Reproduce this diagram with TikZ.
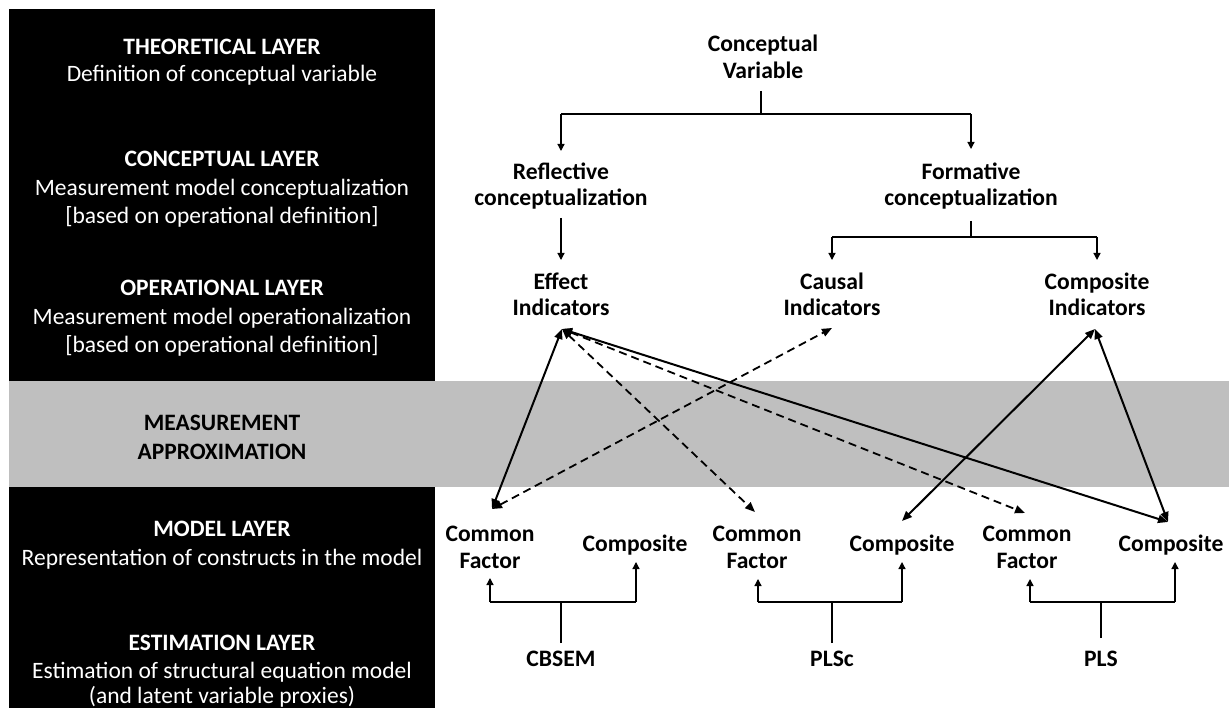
\documentclass[tikz,border=0pt]{standalone}
\usepackage{fontspec}
\setmainfont{Carlito}
\usetikzlibrary{arrows.meta}
\definecolor{bandgray}{RGB}{191,191,191}
\begin{document}
\begin{tikzpicture}[x=1pt,y=-1pt,
  lbl/.style={inner sep=0pt, anchor=base, font=\fontsize{23.6}{27}\selectfont\bfseries},
  ptxt/.style={inner sep=0pt, anchor=base, text=white, font=\fontsize{23.5}{28}\selectfont},
  phead/.style={inner sep=0pt, anchor=base, text=white, font=\fontsize{23.5}{28}\selectfont\bfseries},
  bhead/.style={inner sep=0pt, anchor=base, text=black, font=\fontsize{23.5}{28}\selectfont\bfseries},
  treeline/.style={line width=1.3pt},
  tree/.style={line width=1.3pt, -{Triangle[length=7pt,width=7pt]}},
  link/.style={line width=2pt, {Triangle[length=10pt,width=8pt]}-{Triangle[length=10pt,width=8pt]}},
  dlink/.style={line width=1.8pt, dash pattern=on 8pt off 5pt, {Triangle[length=10pt,width=8pt]}-{Triangle[length=10pt,width=8pt]}}
]
\useasboundingbox (0,0) rectangle (1229,708);
\fill[white] (0,0) rectangle (1229,708);
% measurement band and layer panel
\fill[bandgray] (9,381) rectangle (1229,487);
\fill[black] (9,9) rectangle (435,381);
\fill[black] (9,487) rectangle (435,708);

% panel texts
\node[phead] (th1) at (222,55) {THEORETICAL LAYER};
\node[ptxt]  (th2) at (222,82) {Definition of conceptual variable};
\node[phead] (co1) at (222,167) {CONCEPTUAL LAYER};
\node[ptxt]  (co2) at (222,196) {Measurement model conceptualization};
\node[ptxt]  (co3) at (222,224) {[based on operational definition]};
\node[phead] (op1) at (222,296) {OPERATIONAL LAYER};
\node[ptxt]  (op2) at (222,325) {Measurement model operationalization};
\node[ptxt]  (op3) at (222,353) {[based on operational definition]};
\node[bhead] (ma1) at (222,431) {MEASUREMENT};
\node[bhead] (ma2) at (222,459) {APPROXIMATION};
\node[phead] (mo1) at (222,536) {MODEL LAYER};
\node[ptxt]  (mo2) at (222,565) {Representation of constructs in the model};
\node[phead] (es1) at (222,650) {ESTIMATION LAYER};
\node[ptxt]  (es2) at (222,678) {Estimation of structural equation model};
\node[ptxt]  (es3) at (222,703) {(and latent variable proxies)};

% right side labels
\node[lbl] (cv1) at (763,52) {Conceptual};
\node[lbl] (cv2) at (763,79) {Variable};
\node[lbl] (rc1) at (561,180) {Reflective};
\node[lbl] (rc2) at (561,206) {conceptualization};
\node[lbl] (fc1) at (971,180) {Formative};
\node[lbl] (fc2) at (971,206) {conceptualization};
\node[lbl] (ei1) at (561,290) {Effect};
\node[lbl] (ei2) at (561,316) {Indicators};
\node[lbl] (ci1) at (832,290) {Causal};
\node[lbl] (ci2) at (832,316) {Indicators};
\node[lbl] (mi1) at (1097,290) {Composite};
\node[lbl] (mi2) at (1097,316) {Indicators};

\node[lbl] (cfa1) at (490,541) {Common};
\node[lbl] (cfa2) at (490,568) {Factor};
\node[lbl] (cpa)  at (635,551) {Composite};
\node[lbl] (cfb1) at (757,541) {Common};
\node[lbl] (cfb2) at (757,568) {Factor};
\node[lbl] (cpb)  at (902,551) {Composite};
\node[lbl] (cfc1) at (1027,541) {Common};
\node[lbl] (cfc2) at (1027,568) {Factor};
\node[lbl] (cpc)  at (1171,551) {Composite};

\node[lbl] (cbsem) at (561,666) {CBSEM};
\node[lbl] (plsc)  at (832,666) {PLSc};
\node[lbl] (pls)   at (1101,666) {PLS};

% tree connectors (top)
\coordinate (t0) at (761,91);
\coordinate (t1) at (761,114);
\coordinate (tl) at (561,114);
\coordinate (tr) at (971,114);
\draw[treeline] (t0) -- (t1);
\draw[treeline] (tl) -- (tr);
\draw[tree] (tl) -- (561,151);
\draw[tree] (tr) -- (971,149);
\draw[tree] (561,218) -- (561,260);
\coordinate (f0) at (971,221);
\coordinate (f1) at (971,237);
\coordinate (fl) at (832,237);
\coordinate (fr) at (1097,237);
\draw[treeline] (f0) -- (f1);
\draw[treeline] (fl) -- (fr);
\draw[tree] (fl) -- (832,260);
\draw[tree] (fr) -- (1097,260);

% tree connectors (bottom)
\draw[treeline] (561,643) -- (561,602);
\draw[treeline] (490,602) -- (636,602);
\draw[tree] (490,602) -- (490,578);
\draw[tree] (636,602) -- (636,562);

\draw[treeline] (832,643) -- (832,602);
\draw[treeline] (758,602) -- (902,602);
\draw[tree] (758,602) -- (758,579);
\draw[tree] (902,602) -- (902,562);

\draw[treeline] (1101,638) -- (1101,602);
\draw[treeline] (1030,602) -- (1175,602);
\draw[tree] (1030,602) -- (1030,579);
\draw[tree] (1175,602) -- (1175,562);

% measurement approximation links
\coordinate (pE)   at (562,329);
\coordinate (pCau) at (832,328);
\coordinate (pCI)  at (1095,329);
\coordinate (pCF1) at (492,509);
\coordinate (pCF2) at (755,512);
\coordinate (pCF3) at (1025,513);
\coordinate (pC2)  at (902,521);
\coordinate (pC3)  at (1168,522);

\draw[dlink] (pCF1) -- (pCau);
\draw[dlink] (pE) -- (pCF2);
\draw[dlink] (pE) -- (pCF3);
\draw[link] (pE) -- (pCF1);
\draw[link] (pE) -- (pC3);
\draw[link] (pCI) -- (pC2);
\draw[link] (pCI) -- (pC3);
\end{tikzpicture}
\end{document}
